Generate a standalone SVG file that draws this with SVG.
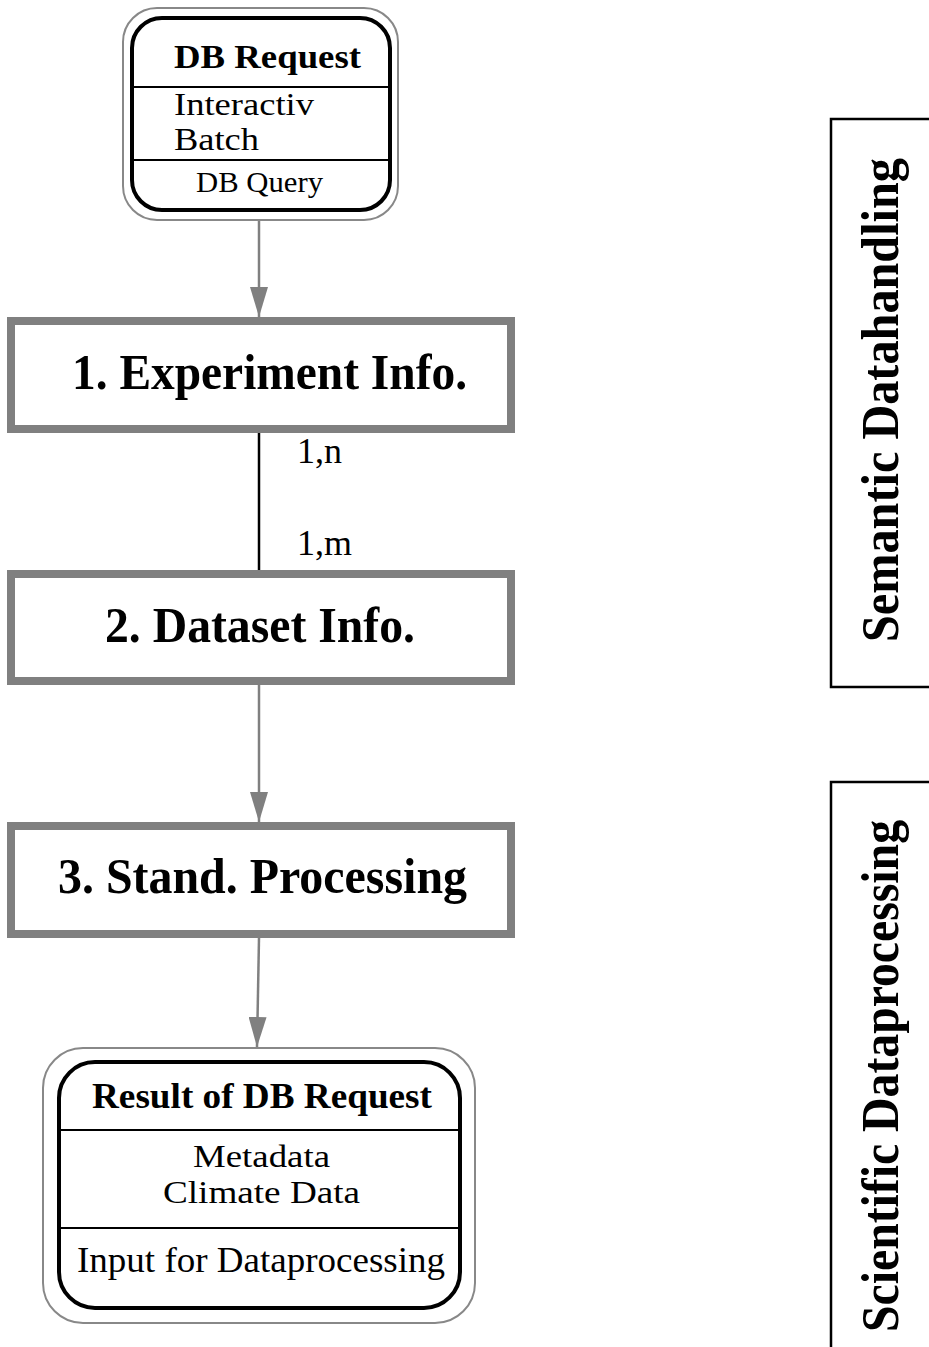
<svg xmlns="http://www.w3.org/2000/svg" width="929" height="1347" viewBox="0 0 929 1347">
<style>
  .t { font-family: "Liberation Serif", "Times New Roman", serif; fill: #000; }
  .b { font-weight: bold; }
  .outer { fill: #fff; stroke: #888; stroke-width: 2; }
  .inner { fill: #fff; stroke: #000; stroke-width: 4; }
  .div { stroke: #000; stroke-width: 2; }
  .box { fill: #fff; stroke: #808080; stroke-width: 8; }
  .flow { stroke: #808080; stroke-width: 2.5; fill: none; }
  .rel { stroke: #000; stroke-width: 2.5; fill: none; }
  .frame { fill: none; stroke: #000; stroke-width: 2.5; }
</style>
<defs>
  <marker id="arr" markerUnits="userSpaceOnUse" markerWidth="30" markerHeight="18" refX="30" refY="9" orient="auto">
    <path d="M0,0 L30,9 L0,18 z" fill="#808080"/>
  </marker>
</defs>
<rect width="929" height="1347" fill="#fff"/>

<g id="connectors">
  <line class="flow" x1="259" y1="220" x2="259" y2="317" marker-end="url(#arr)"/>
  <line class="rel" x1="259" y1="427" x2="259" y2="574"/>
  <text class="t" x="297" y="463" font-size="35" textLength="45" lengthAdjust="spacingAndGlyphs">1,n</text>
  <text class="t" x="297" y="555" font-size="35" textLength="55" lengthAdjust="spacingAndGlyphs">1,m</text>
  <line class="flow" x1="259" y1="685" x2="259" y2="822" marker-end="url(#arr)"/>
  <line class="flow" x1="259" y1="938" x2="257" y2="1047" marker-end="url(#arr)"/>
</g>

<g id="db-request">
  <rect class="outer" x="123" y="8" width="275" height="212" rx="34" ry="34"/>
  <rect class="inner" x="132" y="18" width="258" height="192" rx="30" ry="30"/>
  <line class="div" x1="132" y1="87" x2="390" y2="87"/>
  <line class="div" x1="132" y1="160" x2="390" y2="160"/>
  <text class="t b" x="174" y="68" font-size="33" textLength="187" lengthAdjust="spacingAndGlyphs">DB Request</text>
  <text class="t" x="174" y="115" font-size="31" textLength="140" lengthAdjust="spacingAndGlyphs">Interactiv</text>
  <text class="t" x="174" y="150" font-size="31" textLength="85" lengthAdjust="spacingAndGlyphs">Batch</text>
  <text class="t" x="196" y="192" font-size="29" textLength="127" lengthAdjust="spacingAndGlyphs">DB Query</text>
</g>

<g id="experiment-info">
  <rect class="box" x="11" y="321" width="500" height="108"/>
  <text class="t b" x="72" y="389" font-size="50" textLength="395" lengthAdjust="spacingAndGlyphs">1. Experiment Info.</text>
</g>

<g id="dataset-info">
  <rect class="box" x="11" y="574" width="500" height="107"/>
  <text class="t b" x="105" y="642" font-size="50" textLength="310" lengthAdjust="spacingAndGlyphs">2. Dataset Info.</text>
</g>

<g id="stand-processing">
  <rect class="box" x="11" y="826" width="500" height="108"/>
  <text class="t b" x="58" y="893" font-size="50" textLength="409" lengthAdjust="spacingAndGlyphs">3. Stand. Processing</text>
</g>

<g id="result">
  <rect class="outer" x="43" y="1048" width="432" height="275" rx="40" ry="40"/>
  <rect class="inner" x="59" y="1062" width="401" height="246" rx="36" ry="36"/>
  <line class="div" x1="59" y1="1130" x2="460" y2="1130"/>
  <line class="div" x1="59" y1="1228" x2="460" y2="1228"/>
  <text class="t b" x="92" y="1108" font-size="36" textLength="340" lengthAdjust="spacingAndGlyphs">Result of DB Request</text>
  <text class="t" x="193" y="1167" font-size="32" textLength="137" lengthAdjust="spacingAndGlyphs">Metadata</text>
  <text class="t" x="163" y="1203" font-size="32" textLength="197" lengthAdjust="spacingAndGlyphs">Climate Data</text>
  <text class="t" x="77" y="1272" font-size="36" textLength="368" lengthAdjust="spacingAndGlyphs">Input for Dataprocessing</text>
</g>

<g id="semantic-datahandling">
  <path class="frame" d="M931,119 L831,119 L831,687 L931,687"/>
  <text class="t b" transform="translate(898,642) rotate(-90)" font-size="52" textLength="484" lengthAdjust="spacingAndGlyphs">Semantic Datahandling</text>
</g>

<g id="scientific-dataprocessing">
  <path class="frame" d="M931,782 L831,782 L831,1350"/>
  <text class="t b" transform="translate(898,1332) rotate(-90)" font-size="52" textLength="512" lengthAdjust="spacingAndGlyphs">Scientific Dataprocessing</text>
</g>
</svg>
